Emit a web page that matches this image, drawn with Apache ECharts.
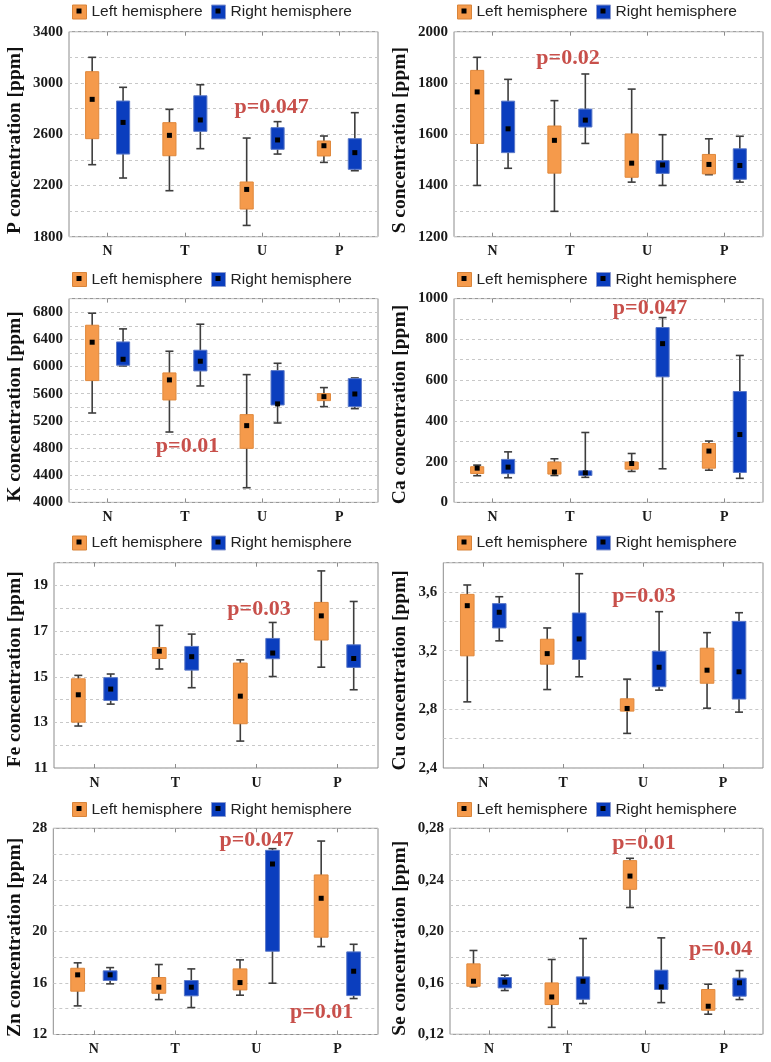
<!DOCTYPE html>
<html>
<head>
<meta charset="utf-8">
<script src="https://cdn.jsdelivr.net/npm/echarts@6/dist/echarts.min.js"></script>
<style>
  html, body { margin: 0; padding: 0; background: #ffffff; }
  #chart { width: 771px; height: 1062px; }
</style>
</head>
<body>
<div id="chart"></div>
<script>
// ---------------- DATA ----------------
const categories = ['N', 'T', 'U', 'P'];
const seriesNames = ['Left hemisphere', 'Right hemisphere'];
// each row: [lower whisker, Q1 (box bottom), median, Q3 (box top), upper whisker] for N, T, U, P
const P_left  = [[2362, 2565, 2872, 3088, 3200], [2159, 2432, 2591, 2690, 2794], [1888, 2016, 2169, 2227, 2570], [2380, 2430, 2510, 2547, 2586]];
const P_right = [[2258, 2445, 2692, 2859, 2966], [2487, 2622, 2711, 2900, 2986], [2445, 2482, 2555, 2651, 2698], [2315, 2326, 2456, 2565, 2768]];
const S_left  = [[1400, 1564, 1765, 1849, 1900], [1299, 1448, 1576, 1632, 1731], [1413, 1432, 1487, 1601, 1776], [1442, 1445, 1482, 1521, 1582]];
const S_right = [[1467, 1528, 1621, 1729, 1814], [1564, 1628, 1655, 1698, 1835], [1400, 1447, 1480, 1497, 1598], [1413, 1424, 1478, 1543, 1592]];
const K_left  = [[5316, 5793, 6358, 6608, 6785], [5036, 5508, 5803, 5906, 6225], [4216, 4796, 5130, 5292, 5881], [5410, 5498, 5557, 5601, 5690]];
const K_right = [[6009, 6019, 6107, 6362, 6554], [5714, 5935, 6078, 6240, 6623], [5169, 5434, 5450, 5940, 6048], [5380, 5410, 5596, 5822, 5832]];
const Ca_left  = [[131, 142, 168, 175, 183], [132, 139, 149, 198, 214], [152, 163, 191, 198, 240], [158, 168, 252, 289, 301]];
const Ca_right = [[121, 141, 173, 211, 248], [123, 132, 145, 155, 343], [165, 616, 779, 858, 907], [118, 147, 333, 544, 721]];
const Fe_left  = [[12.84, 13.01, 14.21, 14.91, 15.06], [15.34, 15.80, 16.12, 16.28, 17.25], [12.18, 12.94, 14.15, 15.60, 15.74], [15.42, 16.61, 17.67, 18.26, 19.64]];
const Fe_right = [[13.80, 13.96, 14.46, 14.96, 15.12], [14.52, 15.29, 15.88, 16.33, 16.87], [15.01, 15.79, 16.04, 16.68, 17.38], [14.43, 15.41, 15.80, 16.40, 18.30]];
const Cu_left  = [[2.851, 3.165, 3.507, 3.584, 3.648], [2.935, 3.108, 3.180, 3.278, 3.355], [2.636, 2.788, 2.806, 2.872, 3.006], [2.808, 2.978, 3.067, 3.217, 3.323]];
const Cu_right = [[3.267, 3.355, 3.462, 3.521, 3.568], [3.022, 3.140, 3.280, 3.457, 3.725], [2.931, 2.954, 3.087, 3.196, 3.466], [2.781, 2.870, 3.056, 3.400, 3.459]];
const Zn_left  = [[14.22, 15.36, 16.63, 17.14, 17.56], [14.71, 15.20, 15.67, 16.42, 17.43], [15.05, 15.46, 16.03, 17.09, 17.79], [18.82, 19.55, 22.57, 24.38, 27.01]];
const Zn_right = [[15.93, 16.19, 16.63, 16.94, 17.19], [14.09, 15.00, 15.67, 16.19, 17.09], [15.98, 18.46, 25.23, 26.29, 26.42], [14.79, 15.02, 16.91, 18.41, 19.00]];
const Se_left  = [[0.1570, 0.1573, 0.1612, 0.1747, 0.1851], [0.1254, 0.1431, 0.1490, 0.1599, 0.1781], [0.2185, 0.2326, 0.2429, 0.2549, 0.2567], [0.1356, 0.1387, 0.1418, 0.1548, 0.1589]];
const Se_right = [[0.1540, 0.1560, 0.1605, 0.1641, 0.1659], [0.1439, 0.1472, 0.1612, 0.1646, 0.1944], [0.1446, 0.1548, 0.1568, 0.1698, 0.1949], [0.1470, 0.1496, 0.1600, 0.1636, 0.1695]];

// tick labels shown on each value axis
const P_ticks  = ['1800', '2200', '2600', '3000', '3400'];
const S_ticks  = ['1200', '1400', '1600', '1800', '2000'];
const K_ticks  = ['4000', '4400', '4800', '5200', '5600', '6000', '6400', '6800'];
const Ca_ticks = ['0', '200', '400', '600', '800', '1000'];
const Fe_ticks = ['11', '13', '15', '17', '19'];
const Cu_ticks = ['2,4', '2,8', '3,2', '3,6'];
const Zn_ticks = ['12', '16', '20', '24', '28'];
const Se_ticks = ['0,12', '0,16', '0,20', '0,24', '0,28'];

const axisNames = ['P concentration [ppm]', 'S concentration [ppm]', 'K concentration [ppm]', 'Ca concentration [ppm]',
                   'Fe concentration [ppm]', 'Cu concentration [ppm]', 'Zn concentration [ppm]', 'Se concentration [ppm]'];

// significance annotations
const pTexts = ['p=0.047', 'p=0.02', 'p=0.01', 'p=0.047', 'p=0.03', 'p=0.03', 'p=0.047', 'p=0.01', 'p=0.01', 'p=0.04'];

// ---------------- LAYOUT ----------------
const panels = [
  { left: P_left,  right: P_right,  ticks: P_ticks,  dec: 0, min: 1800, max: 3400, step: 200,  g: [69, 31.7, 309, 205],    gap: 44.5, shift: 6 },
  { left: S_left,  right: S_right,  ticks: S_ticks,  dec: 0, min: 1200, max: 2000, step: 100,  g: [454, 31.7, 309, 205],   gap: 44.5, shift: 6 },
  { left: K_left,  right: K_right,  ticks: K_ticks,  dec: 0, min: 4000, max: 7000, step: 200,  g: [69, 298.6, 309, 203.8], gap: 44.5, shift: 6 },
  { left: Ca_left, right: Ca_right, ticks: Ca_ticks, dec: 0, min: 0,    max: 1000, step: 100,  g: [454, 298.6, 309, 203.8],gap: 44.5, shift: 4 },
  { left: Fe_left, right: Fe_right, ticks: Fe_ticks, dec: 0, min: 11,   max: 20,   step: 1,    g: [54, 562.7, 324, 205.3], gap: 29.5, shift: 4 },
  { left: Cu_left, right: Cu_right, ticks: Cu_ticks, dec: 1, min: 2.4,  max: 3.8,  step: 0.2,  g: [443.3, 562.7, 319.7, 205.3], gap: 33.5, shift: 5 },
  { left: Zn_left, right: Zn_right, ticks: Zn_ticks, dec: 0, min: 12,   max: 28,   step: 2,    g: [53.3, 828.3, 324.7, 206.2], gap: 28.5, shift: 6 },
  { left: Se_left, right: Se_right, ticks: Se_ticks, dec: 2, min: 0.12, max: 0.28, step: 0.02, g: [450, 828.3, 313, 206],  gap: 40.5, shift: 7 }
];
const legendRows = [11, 278.5, 542, 808.5];    // icon centre y per row
const legendCols = [[72, 211], [457, 596]];    // icon left x per column
const pPos = [[271.7, 107], [568, 58.3], [187.5, 446.7], [650, 308.3], [259, 609.3], [644, 596],
              [256.7, 840], [321.7, 1012.7], [644, 843.3], [720.7, 949.3]];

const FILL = ['#F59A4B', '#0B3EBE'];
const EDGE = ['#E0883C', '#5A78C8'];
const LEG_EDGE = ['#D8843A', '#8A9AD0'];
const BORDER = '#8c8c8c';
const SERIF = '"Liberation Serif", "Times New Roman", serif';
const SANS = '"Liberation Sans", Arial, sans-serif';

function makeRender(sideIdx) {
  const side = sideIdx === 0 ? -1 : 1;
  return function (params, api) {
    const cat = api.value(0);
    const band = api.size([1, 0])[0];
    const cx = api.coord([cat, api.value(3)])[0] + side * band * 0.2;
    const yLow = api.coord([cat, api.value(1)])[1];
    const yQ1 = api.coord([cat, api.value(2)])[1];
    const yMed = api.coord([cat, api.value(3)])[1];
    const yQ3 = api.coord([cat, api.value(4)])[1];
    const yHigh = api.coord([cat, api.value(5)])[1];
    const bw = band * 0.17;
    const cap = 4;
    const ws = { stroke: '#3d3d3d', lineWidth: 1.6 };
    return {
      type: 'group',
      children: [
        { type: 'line', shape: { x1: cx, y1: yHigh, x2: cx, y2: yLow }, style: ws },
        { type: 'line', shape: { x1: cx - cap, y1: yHigh, x2: cx + cap, y2: yHigh }, style: ws },
        { type: 'line', shape: { x1: cx - cap, y1: yLow, x2: cx + cap, y2: yLow }, style: ws },
        { type: 'rect', shape: { x: cx - bw / 2, y: yQ3, width: bw, height: yQ1 - yQ3 },
          style: { fill: FILL[sideIdx], stroke: EDGE[sideIdx], lineWidth: 1 } },
        { type: 'rect', shape: { x: cx - 2.5, y: yMed - 2.5, width: 5, height: 5 }, style: { fill: '#000' } }
      ]
    };
  };
}

const grids = [], xAxes = [], yAxes = [], series = [], legends = [], graphics = [];
panels.forEach(function (p, i) {
  grids.push({ left: p.g[0], top: p.g[1], width: p.g[2], height: p.g[3], show: true,
               borderColor: BORDER, borderWidth: 1, backgroundColor: 'transparent', containLabel: false });
  xAxes.push({ type: 'category', gridIndex: i, data: categories, position: 'bottom',
               axisLine: { show: false },
               axisTick: { show: true, inside: true, alignWithLabel: true, length: 4, lineStyle: { color: BORDER } },
               axisLabel: { fontFamily: SERIF, fontWeight: 'bold', fontSize: 14, color: '#1a1a1a', margin: 8 },
               splitLine: { show: false } });
  const ticks = p.ticks, dec = p.dec;
  yAxes.push({ type: 'value', gridIndex: i, min: p.min, max: p.max, interval: p.step,
               axisLine: { show: false }, axisTick: { show: false },
               splitLine: { show: true, lineStyle: { color: '#c8c8c8', type: [3, 3], width: 1 } },
               axisLabel: { showMinLabel: true, showMaxLabel: true, margin: 6,
                            fontFamily: SERIF, fontWeight: 'bold', fontSize: 15, color: '#1a1a1a',
                            formatter: function (v) {
                              const s = (+v).toFixed(dec).replace('.', ',');
                              return ticks.indexOf(s) >= 0 ? s : '';
                            } },
               name: axisNames[i], nameLocation: 'middle', nameRotate: 90, nameGap: p.gap,
               nameTextStyle: { fontFamily: SERIF, fontWeight: 'bold', fontSize: 19.5, color: '#111',
                                padding: [0, 2 * p.shift, 0, 0] } });
  [p.left, p.right].forEach(function (arr, s) {
    series.push({
      type: 'custom', name: seriesNames[s], xAxisIndex: i, yAxisIndex: i,
      itemStyle: { color: FILL[s] },
      clip: false,
      encode: { x: 0, y: [1, 2, 3, 4, 5] },
      renderItem: makeRender(s),
      data: arr.map(function (r, c) { return [c].concat(r); })
    });
  });
  const row = Math.floor(i / 2), col = i % 2;
  [0, 1].forEach(function (s) {
    const lx = legendCols[col][s], cy = legendRows[row];
    legends.push({ data: [seriesNames[s]], left: lx, top: cy - 7, padding: 0, selectedMode: false,
                   icon: 'rect', itemWidth: 14, itemHeight: 14,
                   itemStyle: { color: FILL[s], borderColor: LEG_EDGE[s], borderWidth: 1 },
                   textStyle: { fontFamily: SANS, fontSize: 15.5, color: '#222', lineHeight: 14 } });
    graphics.push({ type: 'rect', z: 100, shape: { x: lx + 7 - 2.5, y: cy - 2.5, width: 5, height: 5 }, style: { fill: '#000' } });
  });
});
// top-edge category ticks
panels.forEach(function (p, i) {
  xAxes.push({ type: 'category', gridIndex: i, data: categories, position: 'top',
               axisLine: { show: false }, axisLabel: { show: false }, splitLine: { show: false },
               axisTick: { show: true, inside: true, alignWithLabel: true, length: 4, lineStyle: { color: BORDER } } });
});
pTexts.forEach(function (t, k) {
  graphics.push({ type: 'text', z: 100, x: pPos[k][0], y: pPos[k][1],
                  style: { text: t, font: 'bold 22px ' + SERIF, fill: '#C8504B', align: 'center', verticalAlign: 'middle' } });
});

const chart = echarts.init(document.getElementById('chart'), null, { renderer: 'canvas' });
chart.setOption({
  animation: false,
  backgroundColor: '#ffffff',
  grid: grids, xAxis: xAxes, yAxis: yAxes, legend: legends, graphic: graphics, series: series
});
</script>
</body>
</html>
